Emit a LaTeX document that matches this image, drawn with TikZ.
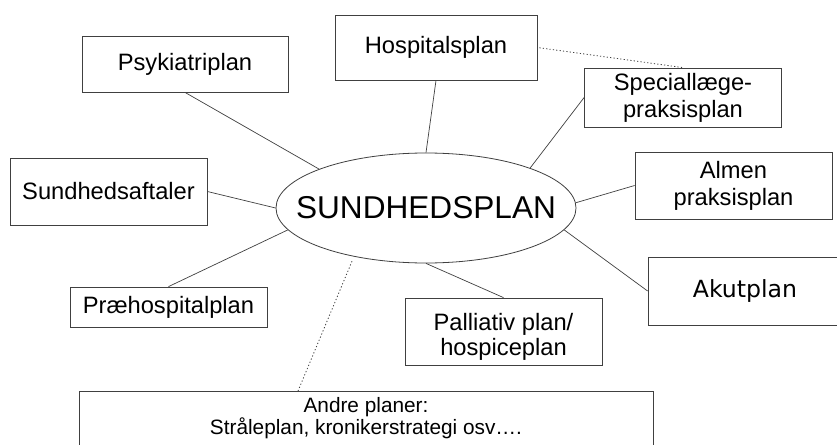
\documentclass[tikz,border=0pt]{standalone}
\usepackage{fontspec}
\setmainfont{Liberation Sans}
\newfontfamily\dejavu{DejaVu Sans}
\usetikzlibrary{shapes.geometric}
\begin{document}
\begin{tikzpicture}[x=1pt,y=-1pt,
  planbox/.style={draw=black!75, line width=0.8pt, rectangle, inner sep=0pt, align=center,
    font=\fontsize{23.7}{27}\selectfont},
  conn/.style={draw=black!75, line width=0.7pt},
  dotconn/.style={draw=black!75, line width=0.8pt, dash pattern=on 1.2pt off 2.2pt}]
\useasboundingbox (0,0) rectangle (837,444);
\fill[white] (0,0) rectangle (837,444);
% central ellipse
\node[ellipse, draw=black!75, line width=0.8pt, minimum width=300pt, minimum height=110pt, inner sep=0pt,
  font=\fontsize{31.6}{34}\selectfont] (ell) at (426,208) {\makebox[0pt]{SUNDHEDSPLAN}};
% boxes
\node[planbox, minimum width=206pt, minimum height=56pt] (psyk) at (185,64) {Psykiatriplan};
\node[planbox, minimum width=202pt, minimum height=65pt] (hosp) at (436,47.5) {Hospitalsplan};
\node[planbox, minimum width=197pt, minimum height=59pt] (spec) at (683,97.5) {Speciallæge-\\praksisplan};
\node[planbox, minimum width=197pt, minimum height=67pt] (almen) at (733.5,185.5) {Almen\\praksisplan};
\node[planbox, minimum width=197pt, minimum height=67pt] (sund) at (108.5,191.5) {Sundhedsaftaler};
\node[planbox, minimum width=197pt, minimum height=40pt] (prae) at (168.5,307) {Præhospitalplan};
\node[planbox, minimum width=194pt, minimum height=68pt, font=\dejavu\fontsize{23.6}{27}\selectfont] (akut) at (745,291) {Akutplan};
\node[planbox, minimum width=197pt, minimum height=67pt, font=\fontsize{23.7}{25}\selectfont] (pall) at (503.5,331.5) {\rule{0pt}{28pt}Palliativ plan/\\hospiceplan};
\node[planbox, anchor=north, minimum width=574pt, inner ysep=6pt, text depth=40pt,
  font=\fontsize{20.8}{22}\selectfont] (andre) at (366,391) {Andre planer:\\Stråleplan, kronikerstrategi osv\dots.};
% connectors
\draw[conn] (psyk.south) -- (ell.160);
\draw[conn] (sund.east) -- (ell.180);
\draw[conn] (prae.north) -- (ell.189);
\draw[conn] (hosp.south) -- (ell.north);
\draw[conn] (spec.west) -- (ell.21);
\draw[conn] (almen.west) -- (ell.2);
\draw[conn] (akut.west) -- (ell.351);
\draw[conn] (pall.north) -- (ell.south);
\coordinate (dA) at (298,391);
\draw[dotconn, shorten <=5pt] (ell.214) -- (dA);
\draw[dotconn, shorten <=2pt] (hosp.east) -- (spec.north);
\end{tikzpicture}
\end{document}
